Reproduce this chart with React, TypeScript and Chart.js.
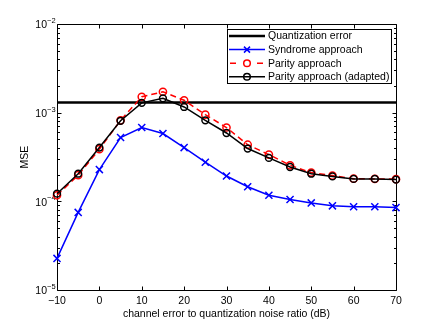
import React, { useEffect, useRef } from "react";
import { Chart, registerables } from "chart.js";

Chart.register(...registerables);

const xValues = [-10, -5, 0, 5, 10, 15, 20, 25, 30, 35, 40, 45, 50, 55, 60, 65, 70];
const syndrome = [2.27e-5, 7.5e-5, 2.28e-4, 5.24e-4, 6.8e-4, 5.82e-4, 4.04e-4, 2.76e-4, 1.93e-4, 1.46e-4, 1.17e-4, 1.05e-4, 9.6e-5, 8.9e-5, 8.7e-5, 8.7e-5, 8.5e-5];
const parity = [1.17e-4, 1.97e-4, 3.87e-4, 8.2e-4, 1.51e-3, 1.72e-3, 1.38e-3, 9.5e-4, 6.8e-4, 4.35e-4, 3.37e-4, 2.55e-4, 2.11e-4, 1.95e-4, 1.8e-4, 1.79e-4, 1.78e-4];
const adapted = [1.22e-4, 2.05e-4, 4.04e-4, 8.1e-4, 1.29e-3, 1.45e-3, 1.16e-3, 8.2e-4, 5.9e-4, 3.94e-4, 3.09e-4, 2.44e-4, 2.05e-4, 1.91e-4, 1.79e-4, 1.79e-4, 1.76e-4];
const quantization = 1.3e-3;
const xTicks = [-10, 0, 10, 20, 30, 40, 50, 60, 70];
const yDecades = [-5, -4, -3, -2];
const legendLabels = ["Quantization error", "Syndrome approach", "Parity approach", "Parity approach (adapted)"];
const xTitle = "channel error to quantization noise ratio (dB)";
const yTitle = "MSE";

const FONT = "'Liberation Sans', Arial, sans-serif";

const pts = (ys: number[]) => xValues.map((x, i) => ({ x, y: ys[i] }));

const axesPlugin = {
  id: "matlabAxes",
  beforeDatasetsDraw(chart: any) {
    const { ctx, chartArea: a, scales } = chart;
    const xs = scales.x;
    const ys = scales.y;
    ctx.save();
    ctx.fillStyle = "#fff";
    ctx.strokeStyle = "#000";
    ctx.lineWidth = 1;
    ctx.beginPath();
    const L = Math.round(a.left) + 0.5, R = Math.round(a.right) + 0.5;
    const T = Math.round(a.top) + 0.5, B = Math.round(a.bottom) + 0.5;
    ctx.rect(L, T, R - L, B - T);
    ctx.stroke();
    // x ticks
    ctx.beginPath();
    xTicks.forEach((v) => {
      const px = Math.round(xs.getPixelForValue(v)) + 0.5;
      ctx.moveTo(px, B); ctx.lineTo(px, B - 4);
      ctx.moveTo(px, T); ctx.lineTo(px, T + 4);
    });
    // y ticks
    yDecades.forEach((d) => {
      const py = Math.round(ys.getPixelForValue(Math.pow(10, d))) + 0.5;
      ctx.moveTo(L, py); ctx.lineTo(L + 4, py);
      ctx.moveTo(R, py); ctx.lineTo(R - 4, py);
      if (d < -2) {
        for (let m = 2; m <= 9; m++) {
          const pm = Math.round(ys.getPixelForValue(m * Math.pow(10, d))) + 0.5;
          ctx.moveTo(L, pm); ctx.lineTo(L + 2.5, pm);
          ctx.moveTo(R, pm); ctx.lineTo(R - 2.5, pm);
        }
      }
    });
    ctx.stroke();
    // labels
    ctx.fillStyle = "#000";
    ctx.font = `10.5px ${FONT}`;
    ctx.textAlign = "center";
    ctx.textBaseline = "middle";
    xTicks.forEach((v) => {
      const px = xs.getPixelForValue(v);
      ctx.fillText(v < 0 ? "\u2212" + Math.abs(v) : String(v), px, B + 11);
    });
    ctx.fillText(xTitle, (a.left + a.right) / 2, B + 23.5);
    yDecades.forEach((d) => {
      const py = ys.getPixelForValue(Math.pow(10, d));
      ctx.font = `10.5px ${FONT}`;
      ctx.textAlign = "right";
      ctx.textBaseline = "middle";
      ctx.fillText("10", a.left - 10, py + 1.5);
      ctx.font = `7.5px ${FONT}`;
      ctx.textAlign = "left";
      ctx.fillText("\u2212" + Math.abs(d), a.left - 10, py - 3);
    });
    ctx.font = `10.5px ${FONT}`;
    ctx.textAlign = "center";
    ctx.translate(25, (a.top + a.bottom) / 2);
    ctx.rotate(-Math.PI / 2);
    ctx.fillText(yTitle, 0, 0);
    ctx.restore();
  },
  afterDatasetsDraw(chart: any) {
    const { ctx } = chart;
    ctx.save();
    const bx = 227.5, by = 29.5, bw = 164, bh = 54;
    ctx.fillStyle = "#fff";
    ctx.fillRect(bx, by, bw, bh);
    ctx.strokeStyle = "#000";
    ctx.lineWidth = 1;
    ctx.strokeRect(bx, by, bw, bh);
    const styles = [
      { color: "#000", width: 2.5, dash: [] as number[], marker: "" },
      { color: "#0000ff", width: 1.5, dash: [] as number[], marker: "x" },
      { color: "#ff0000", width: 1.5, dash: [6, 4], marker: "o" },
      { color: "#000", width: 1.5, dash: [] as number[], marker: "o" },
    ];
    legendLabels.forEach((label, i) => {
      const y = 36 + i * 13.6;
      const s = styles[i];
      ctx.strokeStyle = s.color;
      ctx.lineWidth = s.width;
      ctx.setLineDash(s.dash);
      ctx.beginPath();
      if (s.dash.length) {
        ctx.moveTo(230, y); ctx.lineTo(237, y);
        ctx.moveTo(257, y); ctx.lineTo(264, y);
      } else {
        ctx.moveTo(229, y); ctx.lineTo(265, y);
      }
      ctx.stroke();
      ctx.setLineDash([]);
      ctx.lineWidth = 1.5;
      if (s.marker === "o") {
        ctx.beginPath();
        ctx.arc(247, y, 3.3, 0, Math.PI * 2);
        ctx.stroke();
      } else if (s.marker === "x") {
        ctx.beginPath();
        ctx.moveTo(244, y - 3); ctx.lineTo(250, y + 3);
        ctx.moveTo(244, y + 3); ctx.lineTo(250, y - 3);
        ctx.stroke();
      }
      ctx.fillStyle = "#000";
      ctx.font = `10.5px ${FONT}`;
      ctx.textAlign = "left";
      ctx.textBaseline = "middle";
      ctx.fillText(label, 268, y + 0.5);
    });
    ctx.restore();
  },
};

export default function App() {
  const ref = useRef<HTMLCanvasElement | null>(null);
  useEffect(() => {
    document.body.style.margin = "0";
    const chart = new Chart(ref.current as HTMLCanvasElement, {
      type: "line",
      data: {
        datasets: [
          {
            label: legendLabels[0],
            data: [{ x: -10, y: quantization }, { x: 70, y: quantization }],
            borderColor: "#000",
            borderWidth: 2.5,
            pointRadius: 0,
            order: 4,
            clip: false as any,
          },
          {
            label: legendLabels[1],
            data: pts(syndrome),
            borderColor: "#0000ff",
            borderWidth: 1.5,
            pointStyle: "crossRot",
            pointRadius: 5,
            pointBorderWidth: 1.5,
            pointBorderColor: "#0000ff",
            order: 3,
            clip: false as any,
          },
          {
            label: legendLabels[2],
            data: pts(parity),
            borderColor: "#ff0000",
            borderWidth: 1.5,
            borderDash: [6, 4],
            pointStyle: "circle",
            pointRadius: 3.6,
            pointBorderWidth: 1.5,
            pointBorderColor: "#ff0000",
            pointBackgroundColor: "rgba(0,0,0,0)",
            order: 2,
            clip: false as any,
          },
          {
            label: legendLabels[3],
            data: pts(adapted),
            borderColor: "#000",
            borderWidth: 1.5,
            pointStyle: "circle",
            pointRadius: 3.4,
            pointBorderWidth: 1.5,
            pointBorderColor: "#000",
            pointBackgroundColor: "rgba(0,0,0,0)",
            order: 1,
            clip: false as any,
          },
        ],
      },
      options: {
        animation: false,
        responsive: false,
        events: [],
        layout: { padding: { left: 57, right: 41, top: 24, bottom: 38 } },
        plugins: { legend: { display: false }, tooltip: { enabled: false } },
        scales: {
          x: { type: "linear", min: -10, max: 70, display: false },
          y: { type: "logarithmic", min: 1e-5, max: 1e-2, display: false },
        },
      },
      plugins: [axesPlugin],
    });
    return () => chart.destroy();
  }, []);
  return (
    <div style={{ position: "absolute", left: 0, top: 0, width: 437, height: 328, background: "#fff" }}>
      <canvas ref={ref} width={437} height={328} style={{ width: 437, height: 328 }} />
    </div>
  );
}
